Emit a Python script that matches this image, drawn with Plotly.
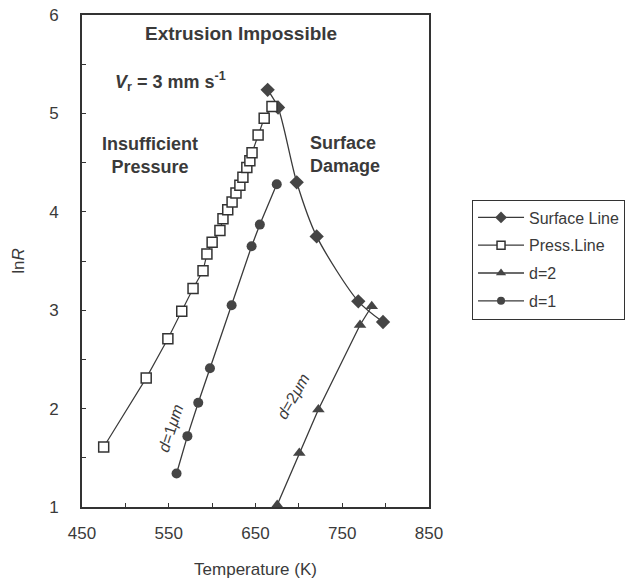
import plotly.graph_objects as go

# ---- data ----
surface_T = [664, 676, 697.5, 720.5, 768.5, 797]
surface_lnR = [5.24, 5.06, 4.30, 3.75, 3.09, 2.88]

press_T = [475, 524, 549, 565, 578, 589.5, 594, 600, 609, 612.5, 618, 623, 627.5, 632,
           635.5, 640, 643.5, 646, 653, 660, 669]
press_lnR = [1.61, 2.31, 2.71, 2.99, 3.22, 3.40, 3.57, 3.69, 3.81, 3.93, 4.02, 4.10, 4.19,
             4.27, 4.35, 4.45, 4.52, 4.60, 4.78, 4.95, 5.07]

d2_T = [675, 700.5, 722.5, 770.5, 784]
d2_lnR = [1.02, 1.55, 1.99, 2.85, 3.04]

d1_T = [559, 571.5, 584, 597.5, 622.5, 645.5, 655, 674.5]
d1_lnR = [1.34, 1.72, 2.06, 2.41, 3.05, 3.65, 3.87, 4.28]

series_names = ["Surface Line", "Press.Line", "d=2", "d=1"]
x_ticks = [450, 550, 650, 750, 850]
y_ticks = [1, 2, 3, 4, 5, 6]

FONT = "Liberation Sans, Arial, sans-serif"
INK = "#3a3a3a"
MK = "#454545"

styles = [
    dict(line=dict(color=INK, width=1.3, shape="spline", smoothing=0.8),
         marker=dict(symbol="diamond", size=11, color=MK, line=dict(width=0))),
    dict(line=dict(color=INK, width=1.2),
         marker=dict(symbol="square", size=10, color="white", line=dict(color="#333", width=1.5))),
    dict(line=dict(color=INK, width=1.3),
         marker=dict(symbol="triangle-up", size=11, color=MK, line=dict(width=0))),
    dict(line=dict(color=INK, width=1.3),
         marker=dict(symbol="circle", size=10, color=MK, line=dict(width=0))),
]
legend_marker_sizes = [9, 8, 9, 8]
data = [(surface_T, surface_lnR), (press_T, press_lnR), (d2_T, d2_lnR), (d1_T, d1_lnR)]

fig = go.Figure()
for (xs, ys), name, st in zip(data, series_names, styles):
    fig.add_trace(go.Scatter(x=xs, y=ys, name=name, mode="lines+markers",
                             showlegend=False, **st))
# legend entries (smaller symbols, like the reference legend)
for name, st, ms in zip(series_names, styles, legend_marker_sizes):
    mk = dict(st["marker"])
    mk["size"] = ms
    ln = dict(color=INK, width=1.3)
    fig.add_trace(go.Scatter(x=[None], y=[None], name=name, mode="lines+markers",
                             line=ln, marker=mk, legendgroup=name, showlegend=True))

ann_font = dict(family=FONT, size=18, color=INK)
annotations = [
    dict(x=633, y=5.81, text="<b>Extrusion Impossible</b>", showarrow=False,
         xanchor="center", yanchor="middle", font=dict(family=FONT, size=19, color=INK)),
    dict(x=486, y=5.32, text="<b><i>V</i><sub>r</sub> = 3 mm s<sup>-1</sup></b>", showarrow=False,
         xanchor="left", yanchor="middle", font=dict(family=FONT, size=18, color=INK)),
    dict(x=528, y=4.57, text="<b>Insufficient<br>Pressure</b>", showarrow=False,
         xanchor="center", yanchor="middle", align="center", font=ann_font),
    dict(x=711, y=4.58, text="<b>Surface<br>Damage</b>", showarrow=False,
         xanchor="left", yanchor="middle", align="left", font=ann_font),
    dict(x=552, y=1.80, text="<i>d</i>=1<i>μm</i>", showarrow=False, textangle=-72,
         xanchor="center", yanchor="middle", font=dict(family=FONT, size=16, color=INK)),
    dict(x=693.5, y=2.12, text="<i>d</i>=2<i>μm</i>", showarrow=False, textangle=-60,
         xanchor="center", yanchor="middle", font=dict(family=FONT, size=16, color=INK)),
]

fig.update_layout(
    width=637, height=583,
    margin=dict(l=82, r=208, t=15, b=76),
    paper_bgcolor="white", plot_bgcolor="white",
    font=dict(family=FONT, size=17, color=INK),
    showlegend=True,
    legend=dict(x=1.124, y=0.625, xanchor="left", yanchor="top",
                bordercolor="#333", borderwidth=1, bgcolor="white",
                font=dict(family=FONT, size=16, color=INK),
                itemwidth=46, tracegroupgap=4, traceorder="grouped"),
    annotations=annotations,
)
fig.update_xaxes(
    range=[450, 850], tickvals=x_ticks, ticks="inside", ticklen=4, tickwidth=1.2,
    tickcolor="#333", showline=True, linecolor="#333", linewidth=2, mirror=True,
    showgrid=False, zeroline=False, ticklabelstandoff=10, automargin=False,
    minor=dict(dtick=50, ticks="inside", ticklen=4, tickwidth=1.2, tickcolor="#333", showgrid=False),
    title=dict(text="Temperature (K)", font=dict(family=FONT, size=17, color=INK), standoff=21),
    tickfont=dict(family=FONT, size=17, color=INK))
fig.update_yaxes(
    range=[1, 6], tickvals=y_ticks, ticks="inside", ticklen=4, tickwidth=1.2,
    tickcolor="#333", showline=True, linecolor="#333", linewidth=2, mirror=True,
    showgrid=False, zeroline=False, ticklabelstandoff=18, automargin=False,
    minor=dict(dtick=0.5, ticks="inside", ticklen=4, tickwidth=1.2, tickcolor="#333", showgrid=False),
    title=dict(text="ln<i>R</i>", font=dict(family=FONT, size=17, color=INK), standoff=20),
    tickfont=dict(family=FONT, size=17, color=INK))

fig.write_html("out.html")
